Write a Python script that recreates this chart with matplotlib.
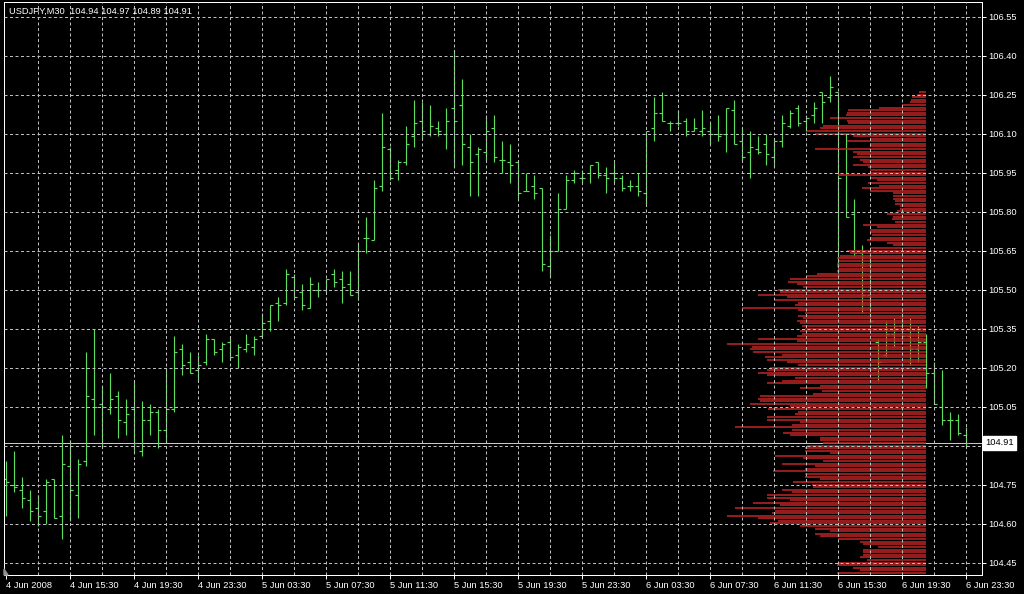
import matplotlib
matplotlib.use("Agg")
import matplotlib.pyplot as plt
import numpy as np

# ---------------- data ----------------
header_text = "USDJPY,M30  104.94 104.97 104.89 104.91"

time_labels = ["4 Jun 2008", "4 Jun 15:30", "4 Jun 19:30", "4 Jun 23:30",
               "5 Jun 03:30", "5 Jun 07:30", "5 Jun 11:30", "5 Jun 15:30",
               "5 Jun 19:30", "5 Jun 23:30", "6 Jun 03:30", "6 Jun 07:30",
               "6 Jun 11:30", "6 Jun 15:30", "6 Jun 19:30", "6 Jun 23:30"]
bars_per_label = 8

opens = [104.77, 104.75, 104.73, 104.69, 104.66, 104.65, 104.77, 104.63, 104.82, 104.71,
         104.84, 105.08, 105.06, 105.04, 105.09, 104.99, 105.04, 104.88, 105.00, 105.03,
         104.96, 105.04, 105.27, 105.22, 105.19, 105.22, 105.31, 105.27, 105.30, 105.25,
         105.27, 105.28, 105.32, 105.38, 105.45, 105.45, 105.55, 105.49, 105.43, 105.50,
         105.50, 105.56, 105.54, 105.52, 105.49, 105.70, 105.69, 105.90, 106.04, 105.96,
         105.99, 106.09, 106.15, 106.10, 106.12, 106.10, 106.20, 106.21, 106.05, 106.02,
         106.03, 106.12, 106.00, 105.99, 105.99, 105.88, 105.90, 105.89, 105.59, 105.65,
         105.81, 105.92, 105.93, 105.95, 105.99, 105.94, 105.95, 105.93, 105.90, 105.90,
         105.87, 106.12, 106.18, 106.14, 106.14, 106.15, 106.11, 106.11, 106.11, 106.10,
         106.10, 106.19, 106.07, 106.03, 106.04, 106.06, 106.01, 106.07, 106.13, 106.20,
         106.15, 106.17, 106.26, 106.24, 106.26, 106.10, 105.79, 105.64, 105.48, 105.30,
         105.25, 105.33, 105.36, 105.32, 105.27, 105.30, 105.18, 105.05, 105.00, 105.00,
         104.94]
highs = [104.84, 104.88, 104.78, 104.73, 104.71, 104.77, 104.77, 104.94, 104.92, 104.85,
         105.26, 105.35, 105.13, 105.18, 105.11, 105.08, 105.15, 105.07, 105.06, 105.04,
         105.20, 105.32, 105.29, 105.26, 105.25, 105.33, 105.31, 105.30, 105.32, 105.29,
         105.33, 105.32, 105.41, 105.44, 105.47, 105.58, 105.56, 105.52, 105.55, 105.53,
         105.54, 105.58, 105.57, 105.57, 105.68, 105.78, 105.92, 106.18, 106.05, 106.00,
         106.13, 106.23, 106.22, 106.21, 106.15, 106.20, 106.42, 106.31, 106.10, 106.05,
         106.17, 106.17, 106.07, 106.06, 106.00, 105.95, 105.94, 105.89, 105.71, 105.87,
         105.94, 105.96, 105.96, 105.98, 105.99, 105.97, 105.99, 105.94, 105.92, 105.95,
         106.11, 106.24, 106.26, 106.15, 106.19, 106.16, 106.16, 106.19, 106.14, 106.17,
         106.20, 106.23, 106.12, 106.11, 106.09, 106.10, 106.08, 106.17, 106.19, 106.21,
         106.17, 106.22, 106.26, 106.32, 106.26, 106.10, 105.85, 105.67, 105.63, 105.31,
         105.38, 105.39, 105.43, 105.39, 105.36, 105.33, 105.22, 105.19, 105.03, 105.02,
         104.97]
lows = [104.63, 104.72, 104.66, 104.61, 104.59, 104.60, 104.62, 104.54, 104.61, 104.62,
        104.82, 104.94, 104.89, 105.02, 104.93, 104.94, 104.87, 104.86, 104.94, 104.89,
        104.91, 105.03, 105.17, 105.18, 105.15, 105.21, 105.25, 105.22, 105.23, 105.20,
        105.26, 105.25, 105.32, 105.34, 105.38, 105.44, 105.47, 105.42, 105.43, 105.47,
        105.49, 105.51, 105.45, 105.48, 105.46, 105.64, 105.69, 105.88, 105.92, 105.92,
        105.98, 106.05, 106.08, 106.09, 106.09, 106.04, 105.97, 105.98, 105.86, 105.86,
        106.00, 105.99, 105.95, 105.91, 105.85, 105.88, 105.85, 105.57, 105.55, 105.65,
        105.81, 105.91, 105.91, 105.91, 105.93, 105.87, 105.91, 105.88, 105.88, 105.86,
        105.83, 106.07, 106.15, 106.11, 106.13, 106.09, 106.11, 106.09, 106.06, 106.07,
        106.03, 106.06, 106.00, 105.93, 106.02, 105.98, 105.97, 106.05, 106.12, 106.13,
        106.11, 106.14, 106.14, 106.22, 105.54, 105.78, 105.63, 105.41, 105.37, 105.15,
        105.24, 105.28, 105.30, 105.21, 105.22, 105.12, 105.06, 104.98, 104.92, 104.94,
        104.89]
closes = [104.76, 104.74, 104.70, 104.65, 104.63, 104.76, 104.62, 104.83, 104.73, 104.83,
          105.09, 105.05, 105.05, 105.08, 105.00, 105.02, 104.91, 105.00, 105.03, 104.96,
          105.04, 105.26, 105.21, 105.18, 105.21, 105.31, 105.26, 105.29, 105.24, 105.28,
          105.29, 105.31, 105.37, 105.44, 105.44, 105.56, 105.47, 105.44, 105.52, 105.50,
          105.54, 105.53, 105.51, 105.48, 105.65, 105.70, 105.89, 106.05, 105.93, 105.99,
          106.06, 106.14, 106.11, 106.13, 106.11, 106.15, 106.15, 106.06, 105.99, 106.04,
          106.11, 106.01, 106.00, 105.98, 105.87, 105.88, 105.87, 105.60, 105.65, 105.81,
          105.92, 105.95, 105.93, 105.98, 105.94, 105.93, 105.93, 105.89, 105.90, 105.88,
          106.11, 106.18, 106.15, 106.14, 106.14, 106.11, 106.12, 106.12, 106.10, 106.09,
          106.20, 106.06, 106.01, 106.05, 106.03, 106.02, 106.07, 106.14, 106.18, 106.14,
          106.16, 106.20, 106.22, 106.28, 105.93, 105.78, 105.64, 105.48, 105.38, 105.22,
          105.33, 105.36, 105.32, 105.27, 105.30, 105.18, 105.06, 105.00, 105.00, 104.95,
          104.91]

# volume profile: one value per 0.01 price level, from the top level downwards
profile_top = 106.26
profile_step = 0.01
profile_volume = [7, 9, 14, 15, 16, 24, 47, 78, 79, 80,
                  96, 79, 78, 103, 106, 119, 111, 73, 56, 79,
                  56, 56, 111, 73, 69, 73, 66, 63, 73, 58,
                  56, 56, 88, 56, 49, 58, 47, 64, 56, 33,
                  33, 33, 31, 31, 26, 26, 29, 39, 33, 34,
                  31, 63, 49, 56, 56, 54, 56, 59, 39, 33,
                  56, 79, 76, 86, 89, 88, 89, 89, 88, 89,
                  109, 119, 136, 138, 129, 123, 148, 146, 168, 139,
                  151, 128, 131, 184, 128, 121, 128, 123, 129,
                  126, 124, 121, 126, 124, 129, 168, 129, 199, 174,
                  176, 173, 144, 161, 159, 139, 128, 156, 159, 168,
                  159, 131, 144, 159, 106, 126, 104, 113, 166, 168,
                  166, 176, 136, 158, 128, 131, 159, 159, 126, 134,
                  191, 134, 143, 136, 106, 106, 103, 119, 121, 121,
                  96, 151, 123, 103, 144, 111, 121, 153, 121, 121,
                  106, 133, 114, 113, 144, 134, 159, 159, 136, 173,
                  146, 191, 151, 154, 199, 168, 148, 156, 126, 111,
                  96, 111, 106, 88, 66, 63, 48, 63, 63, 63,
                  66, 59, 88, 89, 73, 66, 89]

grid_prices = [106.55, 106.40, 106.25, 106.10, 105.95, 105.80, 105.65, 105.50,
               105.35, 105.20, 105.05, 104.90, 104.75, 104.60, 104.45]
price_labels = [106.55, 106.40, 106.25, 106.10, 105.95, 105.80, 105.65, 105.50,
                105.35, 105.20, 105.05, 104.75, 104.60, 104.45]
last_price = 104.91

# ---------------- style ----------------
W, H, DPI = 1024, 594, 100
bar_color = "#5EDC5E"
profile_color = "#B82424"
grid_color = "#BDBDBD"
text_color = "#FFFFFF"
font = "Liberation Sans"
fs = 6.7
px = 72.0 / DPI  # one pixel in points

fig = plt.figure(figsize=(W / DPI, H / DPI), dpi=DPI, facecolor="black")
ax_l, ax_r, ax_t, ax_b = 4, 982, 2, 575
ax = fig.add_axes([ax_l / W, (H - ax_b) / H, (ax_r - ax_l) / W, (ax_b - ax_t) / H])
ax.set_facecolor("black")

n = len(opens)
xs = np.arange(n)
px_per_bar = 8.0
px_per_price = 260.0
tick_len = 3.0 / px_per_bar

# grid
for g in range(4, n, 4):
    ax.axvline(g, color=grid_color, lw=px, ls=(0, (3, 2.5)), zorder=4)
for p in grid_prices:
    ax.axhline(p, color=grid_color, lw=px, ls=(0, (3, 2.5)), zorder=4)

# last price line
ax.axhline(last_price, color="#C8C8C8", lw=px, zorder=1.5)

# OHLC bars
ax.vlines(xs, lows, highs, color=bar_color, lw=1.15 * px, zorder=2)
ax.hlines(opens, xs - tick_len, xs, color=bar_color, lw=1.15 * px, zorder=2)
ax.hlines(closes, xs, xs + tick_len, color=bar_color, lw=1.15 * px, zorder=2)

# volume profile
first_bar_px = 5.5
prof_right = (926 - first_bar_px) / px_per_bar
levels = profile_top - profile_step * np.arange(len(profile_volume))
vol = np.array(profile_volume, dtype=float)
ax.hlines(levels, prof_right - vol / px_per_bar, prof_right, color=profile_color,
          lw=1.6 * px, zorder=3)

# limits (pixel aligned)
x0 = (ax_l - first_bar_px) / px_per_bar
x1 = x0 + (ax_r - ax_l) / px_per_bar
ax.set_xlim(x0, x1)
y_top = grid_prices[0] + (16.5 - ax_t) / px_per_price
ax.set_ylim(y_top - (ax_b - ax_t) / px_per_price, y_top)

for s in ax.spines.values():
    s.set_color("white")
    s.set_linewidth(px)

# axes ticks
ax.yaxis.tick_right()
ax.set_yticks(price_labels)
ax.set_yticklabels([f"{p:.2f}" for p in price_labels], fontfamily=font, fontsize=fs,
                   color=text_color)
ax.tick_params(axis="y", length=3, width=px, color="white", pad=1.5)

label_pos = [i * bars_per_label for i in range(len(time_labels))]
ax.set_xticks(label_pos)
ax.set_xticklabels(time_labels, fontfamily=font, fontsize=fs, color=text_color, ha="left")
ax.tick_params(axis="x", length=3, width=px, color="white", pad=1.0)

# last price box
ax.text(1.0 + 3.5 / (ax_r - ax_l), last_price, f"{last_price:.2f}",
        transform=ax.get_yaxis_transform(), ha="left", va="center",
        fontfamily=font, fontsize=fs, color="black", zorder=10, clip_on=False,
        bbox=dict(boxstyle="square,pad=0.25", fc="white", ec="white"))

# header
fig.text(9 / W, 1 - 11 / H, header_text, fontfamily=font, fontsize=fs,
         color=text_color, ha="left", va="center")

# shift marker
ax.fill([0, 0, 4 / (ax_r - ax_l)], [0, 6 / (ax_b - ax_t), 0], transform=ax.transAxes,
        color="#909090", zorder=5, clip_on=False)

fig.savefig("out.png", dpi=DPI, facecolor="black")
